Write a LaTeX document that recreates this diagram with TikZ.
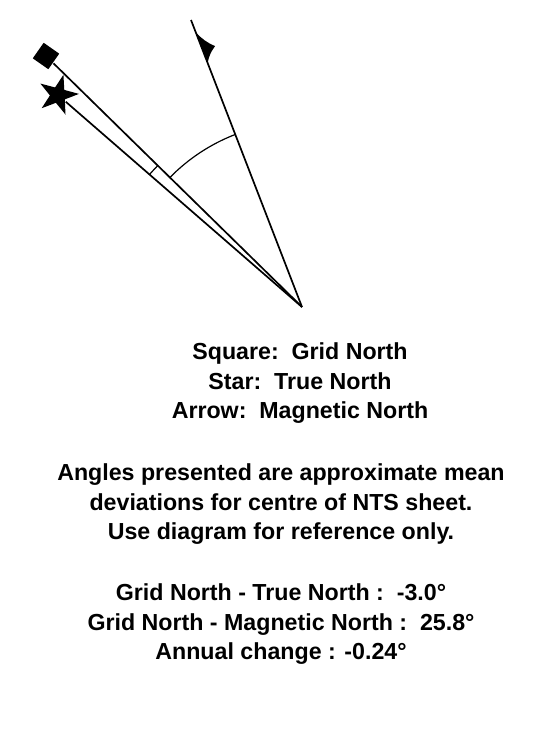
\documentclass[tikz,border=0pt]{standalone}
\usepackage{fontspec}
\setmainfont{Liberation Sans}
\usetikzlibrary{calc,shapes.geometric}

\begin{document}
\begin{tikzpicture}[
    x=1pt, y=1pt,
    line width=1.7pt,
    sqmark/.style={fill, minimum size=19pt, inner sep=0pt, rotate=-35},
    starmark/.style={star, star points=5, star point ratio=2.6, fill,
                     minimum size=42pt, inner sep=0pt, shape border rotate=-15},
    legend/.style={align=center, inner sep=0pt,
                   font=\bfseries\fontsize{23.2}{29.5}\selectfont}
]
\fill[white] (0,0) rectangle (545,-752);
\useasboundingbox (0,0) rectangle (545,-752);

% the three norths, all from one apex
\coordinate (apex) at (302,-307);
\coordinate (magtop) at (191,-20);
\node[sqmark] (grid) at (46,-56) {};
\node[starmark] (true) at (58,-95) {};

\draw (apex) -- (grid);
\draw (apex) -- (true);
\draw (apex) -- (magtop);

% half arrow head on magnetic north
\coordinate (f1) at ($(magtop)!13pt!(apex)$);
\coordinate (f2) at ($(magtop)!46pt!(apex)$);
\coordinate (fm) at ($(magtop)!33pt!(apex)$);
\coordinate (ftip) at ($(fm)!13pt!90:(apex)$);
\fill (f1) to[bend right=12] (ftip) to[bend right=12] (f2) -- cycle;

% angle arcs
\draw[line width=1.2pt] ($(apex)+(135.6:185)$) arc[start angle=135.6, end angle=111.1, radius=185];
\draw[line width=1.2pt] ($(apex)+(139:202)$) arc[start angle=139, end angle=135.6, radius=202];

\node[legend] (key) at (300,-383.5) {Square:\ \ Grid North\\Star:\ \ True North\\Arrow:\ \ Magnetic North};
\node[legend] (note) at (281,-504.5) {Angles presented are approximate mean\\deviations for centre of NTS sheet.\\Use diagram for reference only.};
\node[legend] (vals) at (281,-624.5) {Grid North - True North :\ \ -3.0°\\Grid North - Magnetic North :\ \ 25.8°\\Annual change : -0.24°};
\end{tikzpicture}
\end{document}
